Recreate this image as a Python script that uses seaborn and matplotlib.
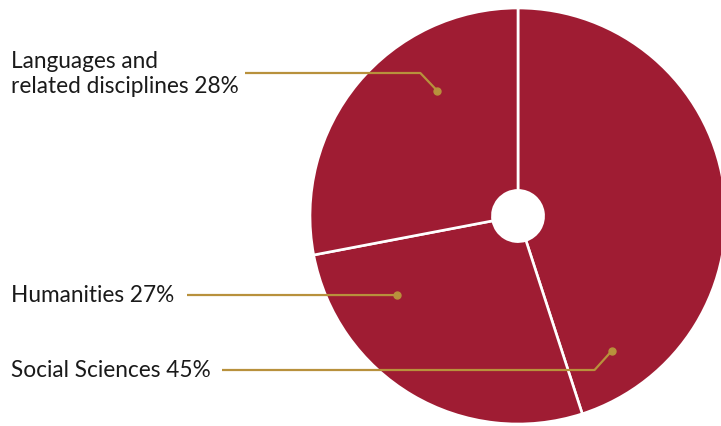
import matplotlib
matplotlib.use("Agg")
import numpy as np
import matplotlib.pyplot as plt
import seaborn as sns

# Share of enrolments by field
categories = ["Social Sciences", "Humanities", "Languages and\nrelated disciplines"]
shares = [45, 27, 28]

# Where each leader line touches its slice: angle (deg) and fraction of radius
dot_angles = [-55.3, 213.1, 122.8]
dot_radii = [0.79, 0.696, 0.716]

sns.set_theme(style="white")
plt.rcParams["font.family"] = ["Lato", "DejaVu Sans"]

W, H, DPI = 721, 426, 100
fig = plt.figure(figsize=(W / DPI, H / DPI), dpi=DPI)
ax = fig.add_axes([0, 0, 1, 1])

# pixel layout of the pie
R_PX, CX, CY = 208, 518, 216


def to_data(px, py):
    return (px - CX) / R_PX, (CY - py) / R_PX


crimson = "#9f1c33"
gold = "#b8913c"
ink = "#1a1a1a"

palette = sns.color_palette([crimson] * len(shares))
ax.pie(shares, colors=palette, startangle=90, counterclock=False, radius=1,
       wedgeprops=dict(width=1 - 0.123, edgecolor="white", linewidth=1.9))

x0, y1 = to_data(0, 0)
x1, y0 = to_data(W, H)
ax.set_xlim(x0, x1)
ax.set_ylim(y0, y1)
ax.set_aspect("auto")
ax.axis("off")

# label layout in pixels: text centre, leader height, leader start, elbow
text_y = [370, 295, 74]
leader_y = [370, 295, 73]
line_start = [222, 187, 245]
elbow = [True, False, True]
TEXT_X = 11
ELBOW_PX = 17

for i, cat in enumerate(categories):
    a = np.deg2rad(dot_angles[i])
    dx, dy = dot_radii[i] * np.cos(a), dot_radii[i] * np.sin(a)
    ly = to_data(0, leader_y[i])[1]
    sx = to_data(line_start[i], 0)[0]
    if elbow[i]:
        ex = dx - ELBOW_PX / R_PX
        xs, ys = [sx, ex, dx], [ly, ly, dy]
    else:
        xs, ys = [sx, dx], [ly, dy]
    ax.plot(xs, ys, color=gold, lw=1.6, solid_capstyle="butt", zorder=3)
    ax.plot([dx], [dy], "o", color=gold, ms=5, zorder=4)
    ax.text(to_data(TEXT_X, 0)[0], to_data(0, text_y[i])[1],
            f"{cat} {shares[i]}%", ha="left", va="center",
            fontsize=16.3, color=ink, linespacing=1.2)

fig.savefig("out.png", dpi=DPI)
